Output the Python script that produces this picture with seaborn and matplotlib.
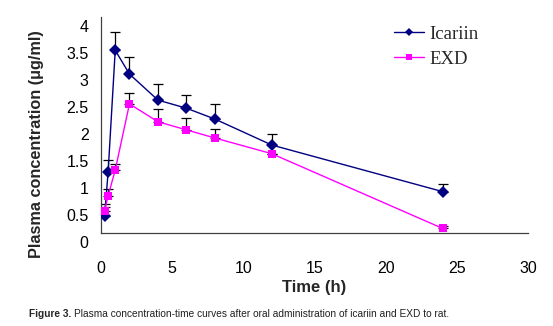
import numpy as np
import pandas as pd
import matplotlib
matplotlib.use("Agg")
import matplotlib.pyplot as plt
import matplotlib.transforms as mtransforms
from matplotlib.lines import Line2D
import seaborn as sns

# Sampling times (h)
time_h = [0.25, 0.5, 1, 2, 4, 6, 8, 12, 24]

# Mean plasma concentration (ug/ml) and SD
icariin_mean = [0.32, 1.13, 3.38, 2.94, 2.46, 2.31, 2.11, 1.63, 0.77]
icariin_sd = [0.16, 0.22, 0.33, 0.31, 0.30, 0.25, 0.28, 0.20, 0.14]
exd_mean = [0.42, 0.69, 1.17, 2.39, 2.06, 1.91, 1.76, 1.47, 0.09]
exd_sd = [0.12, 0.12, 0.11, 0.21, 0.23, 0.22, 0.16, 0.0, 0.05]

series_names = ["Icariin", "EXD"]
colors = {"Icariin": "#000080", "EXD": "#FF00FF"}
markers = {"Icariin": "D", "EXD": "s"}

df = pd.DataFrame({
    "Time": time_h * 2,
    "Conc": icariin_mean + exd_mean,
    "Drug": ["Icariin"] * len(time_h) + ["EXD"] * len(time_h),
})

sns.set_style("white")
plt.rcParams["font.family"] = ["Liberation Sans", "DejaVu Sans"]

fig = plt.figure(figsize=(5.53, 3.26), dpi=100)
ax = fig.add_axes([101 / 553, 1 - 233.3 / 326, 427 / 553, 216.6 / 326])

# upper-only error bars
for name, mean, sd in [("Icariin", icariin_mean, icariin_sd), ("EXD", exd_mean, exd_sd)]:
    ax.errorbar(time_h, mean, yerr=[np.zeros(len(sd)), sd], fmt="none",
                ecolor="black", elinewidth=0.9, capsize=3.5, capthick=0.9, zorder=2)

sns.lineplot(data=df, x="Time", y="Conc", hue="Drug", style="Drug",
             hue_order=series_names, style_order=series_names,
             palette=colors, markers=markers, dashes=False, linewidth=1.0,
             markersize=6, markeredgewidth=0, legend=False, ax=ax, zorder=3)
# square markers a touch smaller than diamonds
for ln in ax.get_lines():
    if ln.get_marker() == "s":
        ln.set_markersize(5.5)

ax.set_xlim(0, 30)
ax.set_ylim(0, 4)
ax.set_xticks([0, 5, 10, 15, 20, 25, 30])
ax.set_yticks([0, 0.5, 1, 1.5, 2, 2.5, 3, 3.5, 4])
ax.set_yticklabels(["0", "0.5", "1", "1.5", "2", "2.5", "3", "3.5", "4"])
ax.tick_params(axis="both", direction="in", length=5, width=0.9, colors="#404040",
               labelsize=11.5, labelcolor="black", pad=9)
ax.tick_params(axis="x", pad=20)
for s in ["top", "right"]:
    ax.spines[s].set_visible(False)
for s in ["left", "bottom"]:
    ax.spines[s].set_color("#404040")
    ax.spines[s].set_linewidth(0.9)

# y tick labels sit slightly below their ticks
offset = mtransforms.ScaledTranslation(0, -9 / 100, fig.dpi_scale_trans)
for lab in ax.get_yticklabels():
    lab.set_transform(lab.get_transform() + offset)

ax.set_xlabel("Time (h)", fontsize=12, fontweight="bold", labelpad=3)
ax.set_ylabel("Plasma concentration (\u03bcg/ml)", fontsize=11.7, fontweight="bold")
ax.yaxis.set_label_coords(-0.1335, 0.412)

handles = [Line2D([], [], color=colors[n], marker=markers[n], markersize=4.5,
                  markeredgewidth=0, linewidth=1.0) for n in series_names]
ax.legend(handles, series_names, loc="upper left", bbox_to_anchor=(0.672, 0.984),
          frameon=False, handlelength=1.6, handletextpad=0.32, labelspacing=0.42,
          borderaxespad=0.0, borderpad=0.3,
          prop={"family": "Liberation Serif", "size": 13.5})

cap_y = 1 - 314 / 326
t1 = fig.text(29 / 553, cap_y, "Figure 3.", fontsize=7.3, fontweight="bold",
              va="center", ha="left")
fig.canvas.draw()
bb = t1.get_window_extent(renderer=fig.canvas.get_renderer())
fig.text(bb.x1 / fig.bbox.width + 3 / 553, cap_y,
         "Plasma concentration-time curves after oral administration of icariin and EXD to rat.",
         fontsize=7.3, va="center", ha="left", color="#202020")

fig.savefig("out.png", dpi=100)
